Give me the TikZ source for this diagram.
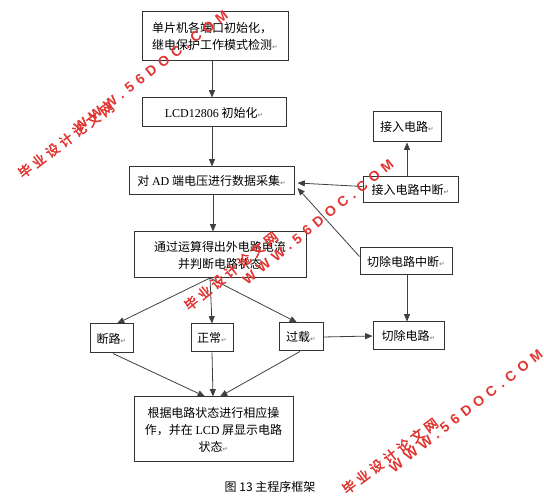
\documentclass[tikz,border=0pt]{standalone}
\usepackage{fontspec}
\setmainfont{Liberation Serif}
\newfontfamily\cjk{Noto Sans CJK SC}
\newfontfamily\dejavu{DejaVu Sans}
\newfontfamily\wmcjk[FakeBold=2.5,LetterSpace=28]{Noto Sans CJK SC}
\newfontfamily\wmlat[LetterSpace=38]{Liberation Sans}
\usetikzlibrary{arrows.meta,calc}
\newcommand\lat[1]{{\rmfamily #1}}
\newcommand\rt{{\dejavu\fontsize{5}{5}\selectfont\color{black!55}↵}}
\definecolor{wmred}{RGB}{226,52,48}
\begin{document}
\begin{tikzpicture}[x=0.75pt,y=-0.75pt,
  bx/.style 2 args={draw=black!80, line width=0.75pt, minimum width={#1*0.75pt}, minimum height={#2*0.75pt}, inner sep=0pt,
    font=\cjk\fontsize{9}{12.75}\selectfont, text=black},
  arr/.style={draw=black!75, line width=0.6pt, -{Triangle[length=5.5pt,width=4.5pt]}},
  wmc/.style={text=wmred, font=\wmcjk\fontsize{10}{10}\selectfont, inner sep=0pt},
  wml/.style={text=wmred, font=\wmlat\bfseries\fontsize{10.5}{10.5}\selectfont, inner sep=0pt}]
\fill[white] (0,0) rectangle (544,502);
\useasboundingbox (0,0) rectangle (544,502);

% main column
\node[bx={146}{49}, align=left] (b1) at (215,36.5) {单片机各端口初始化，\\继电保护工作模式检测\rt};
\node[bx={144}{29}] (b2) at (214,112.5) {\lat{LCD12806} 初始化\rt};
\node[bx={165}{28}] (b3) at (211.5,181) {对 \lat{AD} 端电压进行数据采集\rt};
\node[bx={172}{46}, align=center] (b4) at (220,255) {通过运算得出外电路电流\\并判断电路状态};
\node[bx={43}{29}] (dl) at (111.5,338.5) {断路\rt};
\node[bx={42}{28}] (zc) at (212,338) {正常\rt};
\node[bx={44}{28}] (gz) at (301,337) {过载\rt};
\node[bx={159}{65}, align=center] (fin) at (213.5,429.5) {根据电路状态进行相应操\\作，并在 \lat{LCD} 屏显示电路\\状态\rt};

% right column
\node[bx={68}{30}] (jr) at (407,127) {接入电路\rt};
\node[bx={95}{26}] (jrzd) at (410.5,189.5) {接入电路中断\rt};
\node[bx={92}{27}] (qczd) at (406,261.5) {切除电路中断\rt};
\node[bx={71}{28}] (qc) at (408.5,336) {切除电路\rt};

% caption
\node[font=\cjk\fontsize{9}{9}\selectfont, inner sep=0pt] (cap) at (270,487) {图 13 主程序框架};

% connectors
\coordinate (fork) at (210,278);
\draw[arr] ($(b1.south)+(-3,0)$) -- ($(b2.north)+(-2,0)$);
\draw[arr] ($(b2.south)+(-2,0)$) -- ($(b3.north)+(0.5,0)$);
\draw[arr] ($(b3.south)+(1.5,0)$) -- ($(b4.north)+(-7,0)$);
\draw[arr] (fork) -- ($(dl.north)+(5.5,0)$);
\draw[arr] (fork) -- (zc.north);
\draw[arr] (fork) -- ($(gz.north)+(-4,0)$);
\draw[arr] ($(dl.south)+(1.5,0)$) -- ($(fin.north)+(-8.5,0)$);
\draw[arr] (zc.south) -- ($(fin.north)+(-0.5,0)$);
\draw[arr] ($(gz.south)+(-1,0)$) -- ($(fin.north)+(6.5,0)$);
\draw[arr] (gz.east) -- (qc.west);
\draw[arr] ($(qczd.south)+(1,0)$) -- ($(qc.north)+(-1.5,0)$);
\draw[arr] ($(jrzd.north)+(-3.5,0)$) -- (jr.south);
\draw[arr] ($(jrzd.west)+(0,-3)$) -- ($(b3.east)+(3,2)$);
\draw[arr] ($(qczd.north west)+(0,9)$) -- ($(b3.east)+(3,7)$);

% watermarks
\node[wml, rotate=37.5] (wl1) at (151,71) {WWW.56DOC.COM};
\node[wmc, rotate=37] (wc1) at (66,140) {毕业设计论文网};
\node[wml, rotate=39] (wl2) at (318,222) {WWW.56DOC.COM};
\node[wmc, rotate=39] (wc2) at (231,271) {毕业设计论文网};
\node[wml, rotate=38] (wl3) at (466,411) {WWW.56DOC.COM};
\node[wmc, rotate=37] (wc3) at (390,456) {毕业设计论文网};
\end{tikzpicture}
\end{document}
